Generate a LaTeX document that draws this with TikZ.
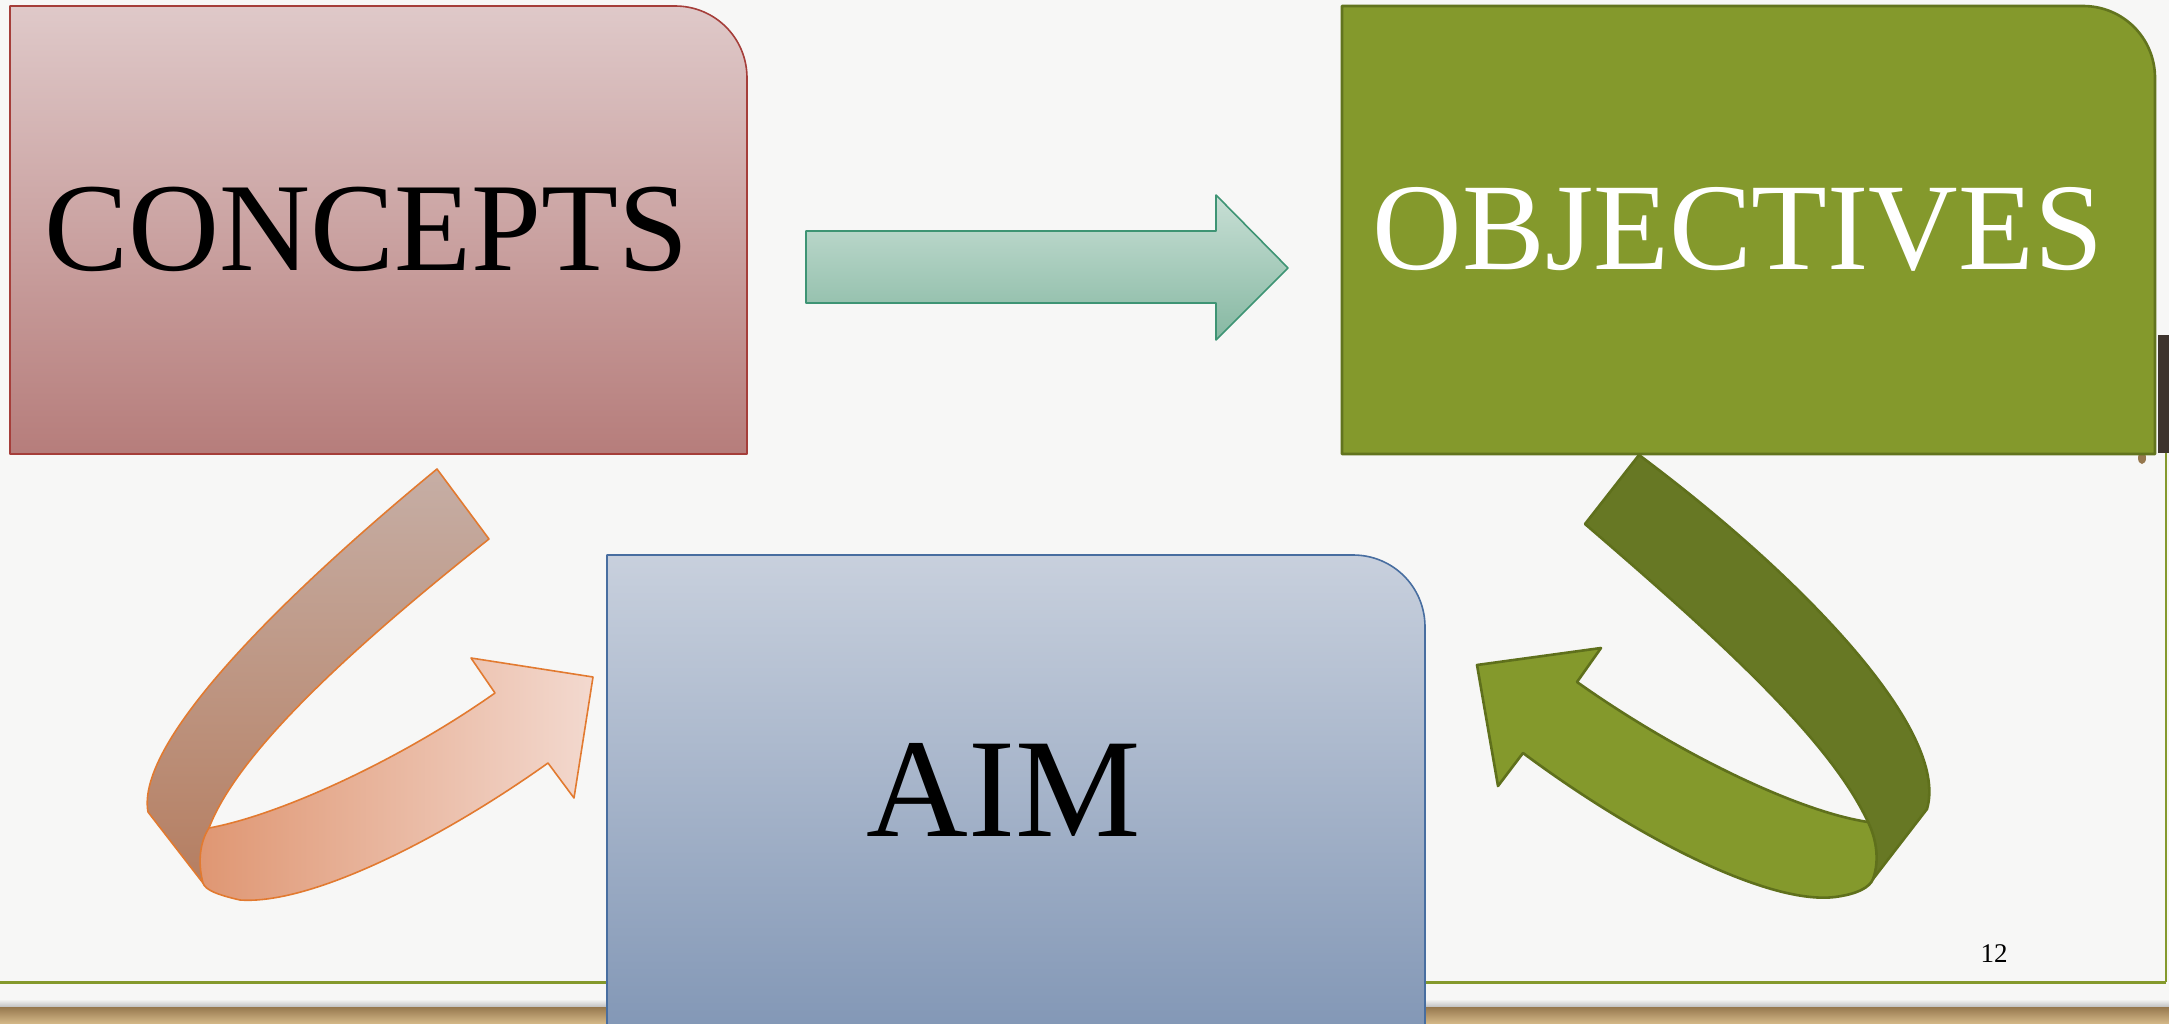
\documentclass[tikz,border=0pt]{standalone}
\usepackage{fontspec}
\setmainfont{Liberation Serif}
\usepackage{xcolor}
\usetikzlibrary{calc}

\definecolor{paper}{RGB}{247,247,246}
\definecolor{concTop}{RGB}{223,201,201}
\definecolor{concBot}{RGB}{182,125,123}
\definecolor{concLine}{RGB}{165,62,58}
\definecolor{objFill}{RGB}{132,153,44}
\definecolor{objLine}{RGB}{98,116,30}
\definecolor{aimTop}{RGB}{200,208,221}
\definecolor{aimBot}{RGB}{129,150,181}
\definecolor{aimLine}{RGB}{72,110,160}
\definecolor{flowTop}{RGB}{200,223,213}
\definecolor{flowBot}{RGB}{134,184,162}
\definecolor{flowLine}{RGB}{62,148,116}
\definecolor{ribLight}{RGB}{198,174,165}
\definecolor{ribDark}{RGB}{181,126,97}
\definecolor{ribFrontL}{RGB}{223,150,114}
\definecolor{ribFrontR}{RGB}{243,217,207}
\definecolor{ribLine}{RGB}{226,122,48}
\definecolor{leafBack}{RGB}{103,120,36}
\definecolor{leafFront}{RGB}{132,153,44}
\definecolor{leafLine}{RGB}{95,112,28}
\definecolor{floorTop}{RGB}{150,120,78}
\definecolor{floorBot}{RGB}{214,186,138}
\definecolor{darkwood}{RGB}{62,52,46}

\begin{document}
\begin{tikzpicture}[x=1pt, y=-1pt, line join=round,
  boxtext/.style={inner sep=0pt, anchor=base},
  ribbon/.style={draw=ribLine, line width=1.6pt},
  leaf/.style={draw=leafLine, line width=2.6pt}]
\fill[paper] (0,0) rectangle (2169,1024);
\useasboundingbox (0,0) rectangle (2169,1024);

% slide frame and floor
\draw[objFill, line width=3pt] (0,982) -- (2166,982);
\draw[objFill, line width=2pt] (2166,982) -- (2166,453);
\shade[top color=paper, bottom color=black!25] (0,999) rectangle (2169,1007);
\shade[top color=floorTop, bottom color=floorBot] (0,1007) rectangle (2169,1024);
\fill[darkwood] (2158,335) rectangle (2169,453);
\fill[floorTop] (2142,458) ellipse (4 and 6);

% boxes
\shade[draw=concLine, line width=1.6pt, top color=concTop, bottom color=concBot]
  (10,454) -- (10,6) -- (675,6) .. controls (715,6) and (747,38) .. (747,78) -- (747,454) -- cycle;
\filldraw[fill=objFill, draw=objLine, line width=2.6pt]
  (1342,454) -- (1342,6) -- (2083,6) .. controls (2123,6) and (2155,38) .. (2155,78) -- (2155,454) -- cycle;
\shade[draw=aimLine, line width=1.6pt, top color=aimTop, bottom color=aimBot]
  (607,1040) -- (607,555) -- (1353,555) .. controls (1393,555) and (1425,587) .. (1425,627) -- (1425,1040) -- cycle;

\node[boxtext, font=\fontsize{126}{130}\selectfont] (concepts) at (367,271) {CONCEPTS};
\node[boxtext, font=\fontsize{124}{130}\selectfont, text=white] (objectives) at (1738,270) {OBJECTIVES};
\node[boxtext, font=\fontsize{141}{150}\selectfont] (aim) at (1004,836) {AIM};

% straight arrow
\shade[draw=flowLine, line width=1.6pt, top color=flowTop, bottom color=flowBot]
  (806,231) -- (1216,231) -- (1216,195) -- (1288,268) -- (1216,340) -- (1216,303) -- (806,303) -- cycle;

% left ribbon arrow
\shade[ribbon, top color=ribLight, bottom color=ribDark]
  (437,469) .. controls (290,590) and (135,740) .. (148,812) -- (203,883) -- (209,828)
  .. controls (235,760) and (330,665) .. (489,539) -- cycle;
\shade[ribbon, left color=ribFrontL, right color=ribFrontR]
  (209,828) .. controls (280,815) and (400,760) .. (495,693) -- (471,658) -- (593,677)
  -- (574,798) -- (548,763) .. controls (440,840) and (310,905) .. (240,900)
  .. controls (218,895) and (205,890) .. (203,883) .. controls (197,860) and (201,840) .. (209,828) -- cycle;

% right ribbon arrow
\filldraw[leaf, fill=leafBack]
  (1639,455) .. controls (1800,575) and (1950,730) .. (1927,809) -- (1873,879) -- (1868,822)
  .. controls (1830,740) and (1720,640) .. (1585,524) -- cycle;
\filldraw[leaf, fill=leafFront]
  (1868,822) .. controls (1800,812) and (1680,755) .. (1577,682) -- (1601,648) -- (1477,665)
  -- (1498,786) -- (1523,753) .. controls (1640,840) and (1770,905) .. (1835,897)
  .. controls (1858,894) and (1870,887) .. (1873,879) .. controls (1880,860) and (1876,838) .. (1868,822) -- cycle;

\node[font=\fontsize{27}{30}\selectfont, anchor=base, inner sep=0pt] (pagenum) at (1994,962) {12};
\end{tikzpicture}
\end{document}
